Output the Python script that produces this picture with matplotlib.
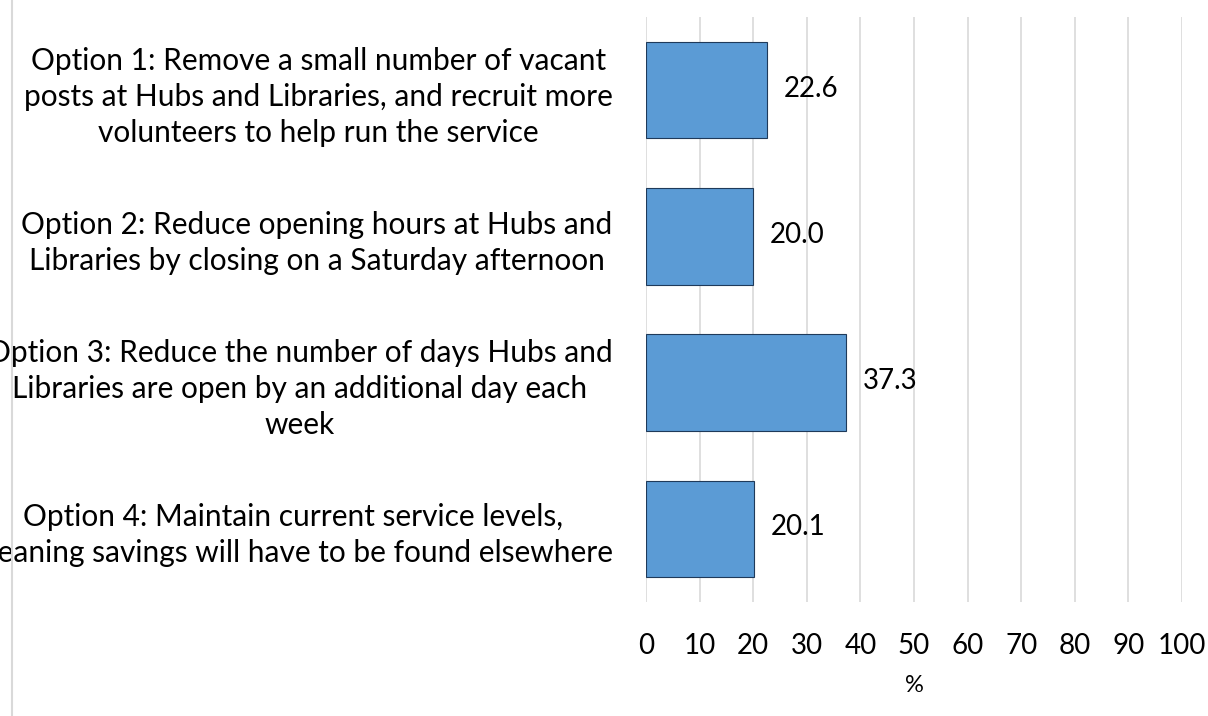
import matplotlib.pyplot as plt
from matplotlib.lines import Line2D

# survey options and share of respondents (%)
options = [
    "Option 1: Remove a small number of vacant\nposts at Hubs and Libraries, and recruit more\nvolunteers to help run the service",
    "Option 2: Reduce opening hours at Hubs and\nLibraries by closing on a Saturday afternoon",
    "Option 3: Reduce the number of days Hubs and\nLibraries are open by an additional day each\nweek",
    "Option 4: Maintain current service levels,\nmeaning savings will have to be found elsewhere",
]
values = [22.6, 20.0, 37.3, 20.1]
ticks = list(range(0, 101, 10))

plt.rcParams['font.family'] = ['Lato', 'DejaVu Sans']

fig = plt.figure(figsize=(12.08, 7.16), dpi=100)
ax = fig.add_axes([0.5348, 0.1592, 0.4437, 0.8171])

ypos = list(range(len(options)))
ax.barh(ypos, values, height=0.66, color='#5B9BD5', edgecolor='#1F3A5A',
        linewidth=0.8, zorder=3)

for y, v in zip(ypos, values):
    ax.annotate(f"{v:.1f}", (v, y), xytext=(12, 1), textcoords='offset points',
                va='center', ha='left', fontsize=20, color='black', zorder=4)

ax.set_xlim(0, 100)
ax.set_ylim(len(options) - 0.5, -0.5)
ax.set_xticks(ticks)
ax.set_xticklabels([str(t) for t in ticks], fontsize=20)
ax.set_yticks(ypos)
ax.set_yticklabels(options, fontsize=21.5)
for lab in ax.get_yticklabels():
    lab.set_multialignment('center')
    lab.set_linespacing(1.35)
ax.tick_params(axis='both', length=0)
ax.tick_params(axis='y', pad=24)
ax.tick_params(axis='x', pad=22)
ax.set_xlabel('%', fontsize=17, labelpad=12)

ax.grid(axis='x', color='#D9D9D9', linewidth=1.2, zorder=0)
for s in ax.spines.values():
    s.set_visible(False)

# light chart border on the left
fig.add_artist(Line2D([0.0097, 0.0097], [0, 1], transform=fig.transFigure,
                      color='#D9D9D9', linewidth=1.5))

fig.savefig('out.png', dpi=100)
